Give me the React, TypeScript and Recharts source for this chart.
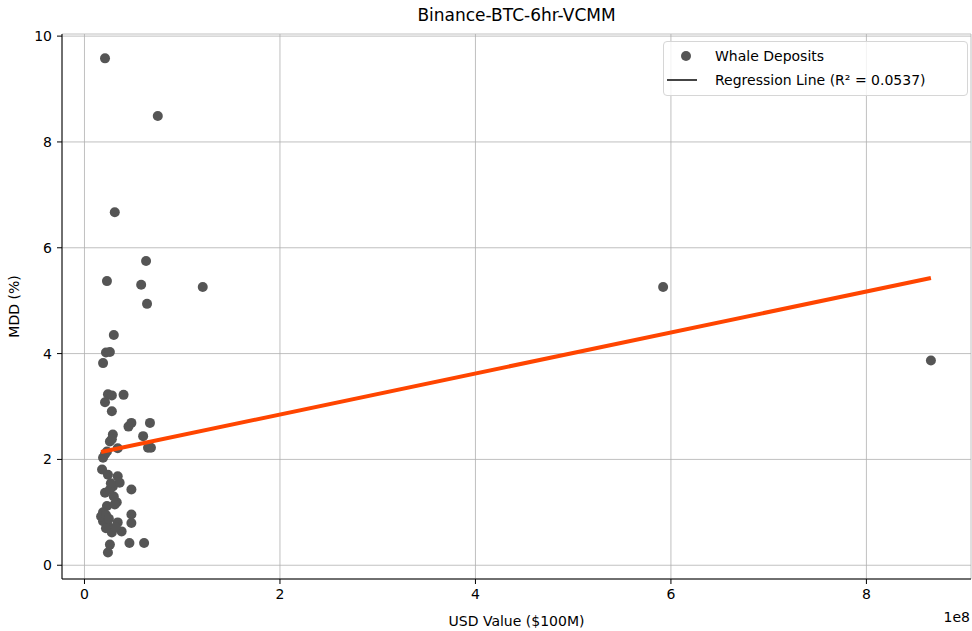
import React from 'react';
import { ScatterChart, Scatter, XAxis, YAxis, CartesianGrid } from 'recharts';

// USD value in units of 1e8, MDD in %
const usdValues = [
  0.21, 0.75, 0.31, 0.63, 0.23, 0.58, 1.21, 0.64, 5.92, 8.66,
  0.30, 0.22, 0.26, 0.19, 0.21, 0.24, 0.28, 0.40, 0.28, 0.48,
  0.45, 0.67, 0.29, 0.26, 0.34, 0.60, 0.65, 0.68, 0.21, 0.19,
  0.18, 0.24, 0.34, 0.29, 0.36, 0.21, 0.48, 0.26, 0.33, 0.23,
  0.31, 0.19, 0.19, 0.24, 0.34, 0.38, 0.28, 0.48, 0.48, 0.26,
  0.24, 0.46, 0.61, 0.17, 0.22, 0.27, 0.30, 0.22, 0.32, 0.25,
  0.28, 0.23,
];
const mddValues = [
  9.58, 8.49, 6.67, 5.75, 5.37, 5.30, 5.26, 4.94, 5.26, 3.87,
  4.35, 4.02, 4.03, 3.82, 3.08, 3.23, 3.21, 3.22, 2.91, 2.69,
  2.62, 2.69, 2.47, 2.34, 2.21, 2.44, 2.22, 2.22, 2.10, 2.03,
  1.81, 1.71, 1.68, 1.49, 1.56, 1.37, 1.43, 1.43, 1.19, 1.12,
  1.15, 1.00, 0.83, 0.74, 0.81, 0.64, 0.62, 0.96, 0.80, 0.39,
  0.24, 0.42, 0.42, 0.92, 0.95, 1.55, 1.30, 0.70, 0.72, 0.88,
  2.38, 2.15,
];

// regression line ends
const regX = [0.17, 8.66];
const regY = [2.14, 5.43];

const xTicks = [0, 2, 4, 6, 8];
const yTicks = [0, 2, 4, 6, 8, 10];

const points = usdValues.map((x, i) => ({ x, y: mddValues[i] }));
const regLine = regX.map((x, i) => ({ x, y: regY[i] }));

const FONT = '"DejaVu Sans", sans-serif';
const DOT = '#555555';
const ORANGE = '#ff4500';

const Dot = (props: any) => {
  const { cx, cy } = props;
  if (cx == null || cy == null) return <g />;
  return <circle cx={cx} cy={cy} r={5} fill={DOT} />;
};

const LegendBox = () => (
  <div
    style={{
      position: 'absolute',
      left: 663,
      top: 41,
      border: '1px solid #d6d6d6',
      borderRadius: 4,
      background: 'rgba(255,255,255,0.8)',
      fontFamily: FONT,
      fontSize: 14,
      color: '#000',
      padding: '2px 0 3px 0',
      width: 305,
      boxSizing: 'border-box',
    }}
  >
    <div style={{ display: 'flex', alignItems: 'center', height: 24 }}>
      <svg width={51} height={24}>
        <circle cx={22} cy={12} r={5} fill={DOT} />
      </svg>
      <span>Whale Deposits</span>
    </div>
    <div style={{ display: 'flex', alignItems: 'center', height: 24 }}>
      <svg width={51} height={24}>
        <line x1={3} x2={33} y1={12} y2={12} stroke="#444" strokeWidth={2} />
      </svg>
      <span>Regression Line (R² = 0.0537)</span>
    </div>
  </div>
);

export default function App() {
  return (
    <div style={{ position: 'absolute', left: 0, top: 0, width: 972, height: 631, background: '#fff' }}>
      <div
        style={{
          position: 'absolute',
          left: 62,
          width: 909,
          top: 5,
          textAlign: 'center',
          fontFamily: FONT,
          fontSize: 17,
          color: '#000',
        }}
      >
        Binance-BTC-6hr-VCMM
      </div>
      <div
        style={{
          position: 'absolute',
          right: 2,
          top: 609,
          fontFamily: FONT,
          fontSize: 14,
          color: '#000',
        }}
      >
        1e8
      </div>
      <ScatterChart width={972} height={631} margin={{ top: 34, right: 1, bottom: 0, left: 0 }}>
        <CartesianGrid stroke="#b0b0b0" strokeWidth={0.8} />
        <XAxis
          type="number"
          dataKey="x"
          domain={[-0.23, 9.07]}
          ticks={xTicks}
          allowDataOverflow
          height={52}
          tickSize={5}
          tickMargin={5}
          stroke="#000"
          tick={{ fill: '#000', fontSize: 14, fontFamily: FONT }}
          label={{ value: 'USD Value ($100M)', position: 'insideBottom', offset: 5, fill: '#000', fontSize: 14, fontFamily: FONT }}
        />
        <XAxis xAxisId="top" orientation="top" type="number" dataKey="x" domain={[-0.23, 9.07]} tick={false} tickLine={false} height={0} stroke="#000" />
        <YAxis
          type="number"
          dataKey="y"
          domain={[-0.26, 10.04]}
          ticks={yTicks}
          allowDataOverflow
          width={62}
          tickSize={5}
          tickMargin={5}
          stroke="#000"
          tick={{ fill: '#000', fontSize: 14, fontFamily: FONT }}
          label={{ value: 'MDD (%)', angle: -90, position: 'insideLeft', offset: 14, fill: '#000', fontSize: 14, fontFamily: FONT, style: { textAnchor: 'middle' } }}
        />
        <YAxis yAxisId="right" orientation="right" type="number" dataKey="y" domain={[-0.26, 10.04]} tick={false} tickLine={false} width={0} stroke="#000" />
        <Scatter data={points} shape={<Dot />} isAnimationActive={false} name="Whale Deposits" />
        <Scatter
          data={regLine}
          line={{ stroke: ORANGE, strokeWidth: 4 }}
          lineType="joint"
          shape={() => <g />}
          isAnimationActive={false}
          name="Regression Line"
        />
      </ScatterChart>
      <LegendBox />
    </div>
  );
}
